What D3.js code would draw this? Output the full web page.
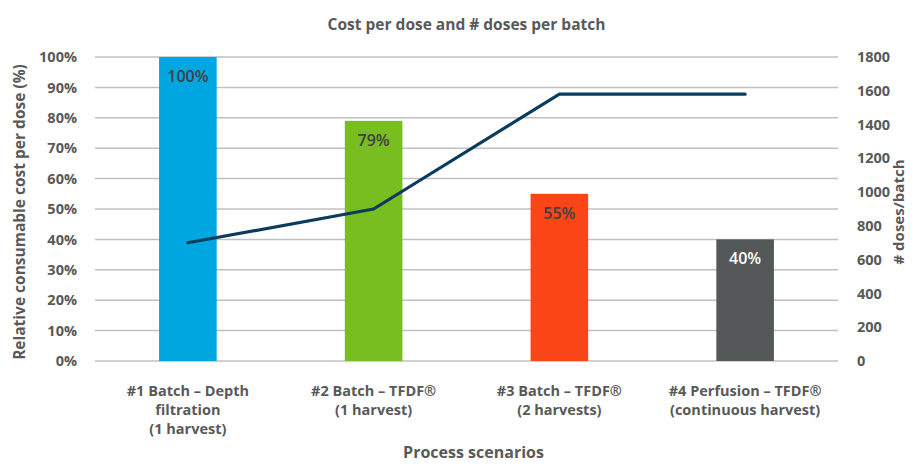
<!DOCTYPE html>
<html>
<head>
<meta charset="utf-8">
<script src="https://cdn.jsdelivr.net/npm/d3@7"></script>
<style>
  body { margin: 0; background: #fff; }
  text { font-family: "Open Sans", "Liberation Sans", sans-serif; }
</style>
</head>
<body>
<div id="chart"></div>
<script>
// data
var scenarios = [
  ["#1 Batch \u2013 Depth", "filtration", "(1 harvest)"],
  ["#2 Batch \u2013 TFDF\u00ae", "(1 harvest)"],
  ["#3 Batch \u2013 TFDF\u00ae", "(2 harvests)"],
  ["#4 Perfusion \u2013 TFDF\u00ae", "(continuous harvest)"]
];
var costPerDose = [100, 79, 55, 40];
var dosesPerBatch = [700, 900, 1580, 1580];
var barColors = ["#00a6e0", "#78be20", "#fa4616", "#555859"];
var labelColors = ["#404040", "#404040", "#404040", "#ffffff"];

var svgWidth = 920;
var svgHeight = 464;
var margin = { top: 57, right: 82, bottom: 103, left: 95 };
var width = svgWidth - margin.left - margin.right;
var height = svgHeight - margin.top - margin.bottom;

var svg = d3.select("#chart")
  .append("svg")
  .attr("width", svgWidth)
  .attr("height", svgHeight);

var chartGroup = svg.append("g")
  .attr("transform", `translate(${margin.left}, ${margin.top})`);

var xScale = d3.scaleBand()
  .domain(d3.range(scenarios.length))
  .range([0, width])
  .paddingInner(0.69)
  .paddingOuter(0.345);

var yLeft = d3.scaleLinear().domain([0, 100]).range([height, 0]);
var yRight = d3.scaleLinear().domain([0, 1800]).range([height, 0]);

// gridlines
chartGroup.append("g")
  .selectAll("line")
  .data(yLeft.ticks(10))
  .enter()
  .append("line")
  .attr("x1", 0)
  .attr("x2", width)
  .attr("y1", d => yLeft(d))
  .attr("y2", d => yLeft(d))
  .attr("stroke", "#c0c0c0")
  .attr("stroke-width", 1.5);

// left axis
var leftAxis = d3.axisLeft(yLeft).ticks(10).tickSize(0).tickPadding(18)
  .tickFormat(d => d + "%");
chartGroup.append("g")
  .call(leftAxis)
  .call(g => g.select(".domain").remove())
  .selectAll("text")
  .attr("font-size", "14.5px")
  .attr("font-weight", "bold")
  .attr("fill", "#595959")
  .style("font-family", "'Open Sans', sans-serif");

// right axis
var rightAxis = d3.axisRight(yRight).ticks(9).tickSize(0).tickPadding(19)
  .tickFormat(d3.format("d"));
chartGroup.append("g")
  .attr("transform", `translate(${width}, 0)`)
  .call(rightAxis)
  .call(g => g.select(".domain").remove())
  .selectAll("text")
  .attr("font-size", "14.5px")
  .attr("font-weight", "bold")
  .attr("fill", "#595959")
  .style("font-family", "'Open Sans', sans-serif");

// bars
chartGroup.selectAll("rect.bar")
  .data(costPerDose)
  .enter()
  .append("rect")
  .attr("class", "bar")
  .attr("x", (d, i) => xScale(i))
  .attr("y", d => yLeft(d))
  .attr("width", xScale.bandwidth())
  .attr("height", d => height - yLeft(d))
  .attr("fill", (d, i) => barColors[i]);

// bar labels
chartGroup.selectAll("text.barlabel")
  .data(costPerDose)
  .enter()
  .append("text")
  .attr("class", "barlabel")
  .attr("x", (d, i) => xScale(i) + xScale.bandwidth() / 2)
  .attr("y", d => yLeft(d) + 25)
  .attr("text-anchor", "middle")
  .attr("font-size", "16px")
  .attr("font-weight", "600")
  .attr("fill", (d, i) => labelColors[i])
  .text(d => d + "%");

// line
var line = d3.line()
  .x((d, i) => xScale(i) + xScale.bandwidth() / 2)
  .y(d => yRight(d));

chartGroup.append("path")
  .datum(dosesPerBatch)
  .attr("d", line)
  .attr("fill", "none")
  .attr("stroke", "#0b3c5d")
  .attr("stroke-width", 3.2)
  .attr("stroke-linecap", "round")
  .attr("stroke-linejoin", "round");

// category labels
var catGroup = chartGroup.selectAll("text.cat")
  .data(scenarios)
  .enter()
  .append("text")
  .attr("class", "cat")
  .attr("text-anchor", "middle")
  .attr("font-size", "14.5px")
  .attr("font-weight", "bold")
  .attr("fill", "#595959")
  .attr("transform", (d, i) => `translate(${xScale(i) + xScale.bandwidth() / 2}, ${height + 35})`);

catGroup.selectAll("tspan")
  .data(d => d)
  .enter()
  .append("tspan")
  .attr("x", 0)
  .attr("dy", (d, i) => i === 0 ? 0 : 19)
  .text(d => d);

// title
svg.append("text")
  .attr("x", margin.left + width / 2)
  .attr("y", 30)
  .attr("text-anchor", "middle")
  .attr("font-size", "15.5px")
  .attr("font-weight", "bold")
  .attr("fill", "#595959")
  .text("Cost per dose and # doses per batch");

// x axis title
svg.append("text")
  .attr("x", margin.left + width / 2 + 7)
  .attr("y", 458)
  .attr("text-anchor", "middle")
  .attr("font-size", "16px")
  .attr("font-weight", "bold")
  .attr("fill", "#595959")
  .text("Process scenarios");

// left y title
svg.append("text")
  .attr("transform", "rotate(-90)")
  .attr("x", -(margin.top + height / 2 + 3))
  .attr("y", 25)
  .attr("text-anchor", "middle")
  .attr("font-size", "15.5px")
  .attr("font-weight", "bold")
  .attr("fill", "#595959")
  .text("Relative consumable cost per dose (%)");

// right y title
svg.append("text")
  .attr("transform", "rotate(-90)")
  .attr("x", -(margin.top + height / 2 + 3))
  .attr("y", 904)
  .attr("text-anchor", "middle")
  .attr("font-size", "15px")
  .attr("font-weight", "bold")
  .attr("fill", "#595959")
  .text("# doses/batch");
</script>
</body>
</html>
